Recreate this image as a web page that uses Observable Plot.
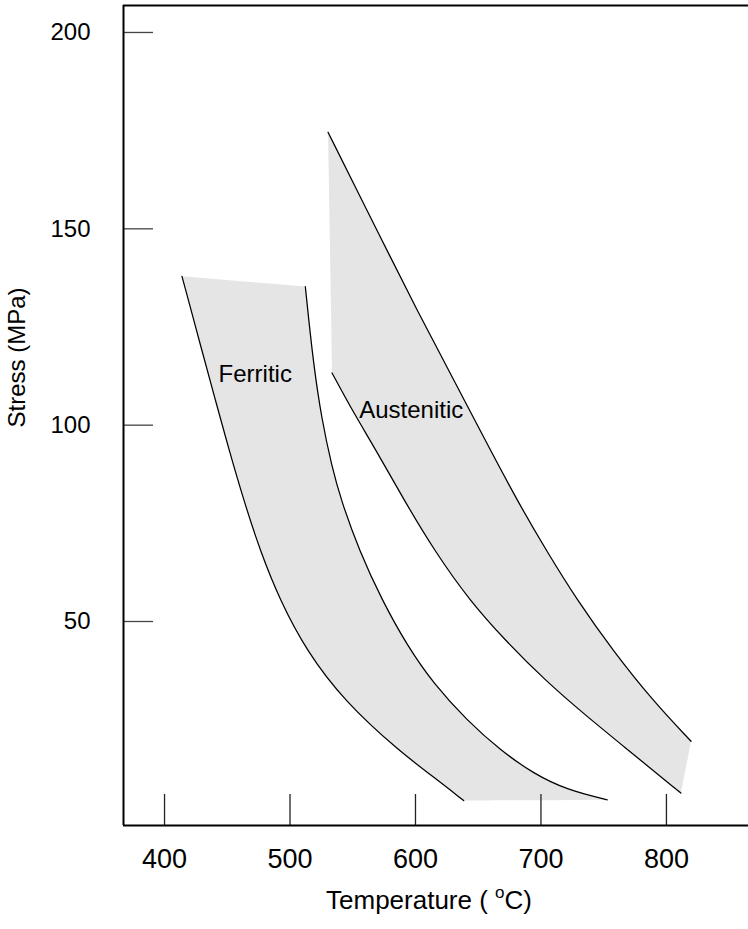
<!DOCTYPE html>
<html><head><meta charset="utf-8">
<script src="https://cdn.jsdelivr.net/npm/d3@7"></script>
<script src="https://cdn.jsdelivr.net/npm/@observablehq/plot@0.6"></script>
<style>html,body{margin:0;padding:0;background:#fff} svg{display:block}</style>
</head><body><div id="chart"></div>
<script>
// Tick values and axis domains
const xTicks = [400, 500, 600, 700, 800];
const yTicks = [50, 100, 150, 200];
const xDomain = [367.3, 865.4];
const yDomain = [-1.95, 206.87];

// Ferritic band edges: [temperature °C, stress MPa]
const ferriticCold = [[413.9,137.9],[429.8,119.0],[440.6,106.3],[451.6,93.5],[463.2,80.8],[476.2,68.0],[492.1,55.3],[513.2,42.5],[543.0,29.8],[588.0,16.7],[614.5,10.4],[638.4,4.4]];
const ferriticHot = [[512.2,135.3],[514.7,127.5],[519.1,114.8],[525.0,102.0],[533.4,89.3],[540.8,80.8],[555.2,68.0],[573.5,55.3],[593.5,43.8],[614.5,34.1],[641.1,24.8],[667.7,17.2],[694.3,11.2],[720.9,7.1],[752.8,4.6]];

// Austenitic band edges
const austeniticHot = [[530.3,174.6],[564.0,153.0],[577.4,144.5],[601.3,129.2],[627.9,113.1],[654.4,96.9],[681.0,80.8],[704.4,68.0],[729.1,55.3],[757.3,42.6],[789.2,29.8],[819.6,19.5]];
const austeniticCold = [[533.5,113.3],[549.7,103.7],[568.8,93.5],[591.1,80.8],[615.1,68.0],[643.2,55.3],[671.8,45.1],[703.7,34.9],[735.6,26.1],[765.1,18.4],[811.5,6.3]];

// Band labels
const bandNames = ["Ferritic", "Austenitic"];
const bandLabelT = [472.3, 596.6];
const bandLabelS = [113.0, 103.7];
const xTitle = "Temperature ( oC)";
const yTitle = "Stress (MPa)";

// closed outline for the fill: edge A, then edge B reversed; junction points repeated
// so the B-spline keeps sharp corners and follows the stroked edges exactly
function outline(a, b) {
  const ra = b.slice().reverse();
  const endA = a[a.length - 1], startB = ra[0];
  return [...a, endA, endA, startB, startB, ...ra];
}
const ferriticPoly = outline(ferriticCold, ferriticHot);
const austeniticPoly = outline(austeniticHot, austeniticCold);
const labels = bandNames.map((name, i) => ({name, t: bandLabelT[i], s: bandLabelS[i]}));

const fillColor = "#e5e5e5";
const X = d => d[0], Y = d => d[1];
const curve = "basis";
const edge = {x: X, y: Y, stroke: "#000", strokeWidth: 1.25, curve};

const chart = Plot.plot({
  width: 748,
  height: 929,
  marginLeft: 123,
  marginRight: 0,
  marginTop: 5,
  marginBottom: 104,
  style: {fontSize: "24px", fontFamily: "'Liberation Sans', Arial, Helvetica, sans-serif", color: "#000", background: "#fff"},
  x: {domain: xDomain},
  y: {domain: yDomain},
  marks: [
    Plot.line(ferriticPoly, {x: X, y: Y, fill: fillColor, stroke: null, curve}),
    Plot.line(austeniticPoly, {x: X, y: Y, fill: fillColor, stroke: null, curve}),
    Plot.line(ferriticCold, edge),
    Plot.line(ferriticHot, edge),
    Plot.line(austeniticHot, edge),
    Plot.line(austeniticCold, edge),
    Plot.text(labels, {x: "t", y: "s", text: "name", fill: "#000"}),
    Plot.axisX({ticks: xTicks, tickSize: -31, tickPadding: 54, tickFormat: d => String(d), label: null, fontSize: 27, stroke: "#222", strokeWidth: 1.3}),
    Plot.axisY({ticks: yTicks, tickSize: -30, tickPadding: 63, tickFormat: d => String(d), label: null, stroke: "#444", strokeWidth: 1.3}),
    Plot.ruleX([xDomain[0]], {stroke: "#000", strokeWidth: 2}),
    Plot.ruleY([yDomain[0]], {stroke: "#000", strokeWidth: 2}),
    Plot.ruleY([yDomain[1]], {stroke: "#000", strokeWidth: 2}),
    Plot.text([yTitle], {frameAnchor: "left", textAnchor: "middle", lineAnchor: "middle", rotate: -90, dx: -106, dy: -58, fill: "#000"}),
    Plot.text([xTitle], {frameAnchor: "bottom", textAnchor: "middle", lineAnchor: "middle", dx: -7, dy: 75, fontSize: 26, fill: "#000"})
  ]
});
document.getElementById("chart").appendChild(chart);

// Superscript "o" in the temperature unit
d3.select(chart).selectAll("text").each(function() {
  if (this.textContent === xTitle) {
    const t = d3.select(this);
    t.text(null);
    t.append("tspan").text("Temperature ( ");
    t.append("tspan").attr("dy", "-11").attr("font-size", "17px").text("o");
    t.append("tspan").attr("dy", "11").text("C)");
  }
});
</script>
</body></html>
